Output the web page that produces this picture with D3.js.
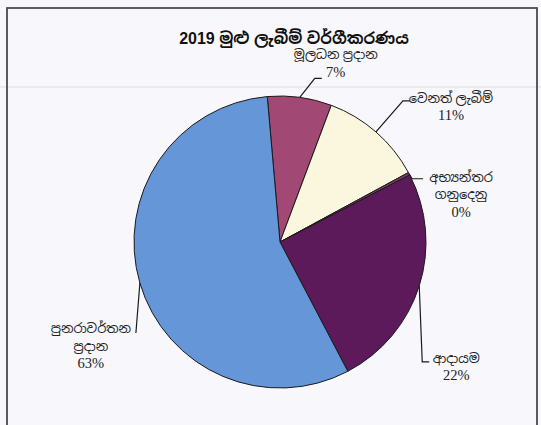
<!DOCTYPE html>
<html>
<head>
<meta charset="utf-8">
<script src="https://cdn.jsdelivr.net/npm/d3@7"></script>
<style>
  html, body { margin: 0; padding: 0; background: #f8f8fc; }
  svg { display: block; }
  .lbl { font-family: "Liberation Serif", "Noto Sans Sinhala", serif; font-size: 14.5px; fill: #222; }
  .lbl .si { font-size: 13px; }
  .title { font-family: "Liberation Sans", Arial, "Noto Sans Sinhala", sans-serif; font-size: 16px; font-weight: bold; fill: #111; }
</style>
</head>
<body>
<div id="chart"></div>
<script>
const w = 541;
const h = 425;

const categories = ["මූලධන ප්‍රදාන", "වෙනත් ලැබීම්", "අභ්‍යන්තර ගනුදෙනු", "ආදායම", "පුනරාවර්තන ප්‍රදාන"];
const labelLines = [["මූලධන ප්‍රදාන"], ["වෙනත් ලැබීම්"], ["අභ්‍යන්තර", "ගනුදෙනු"], ["ආදායම"], ["පුනරාවර්තන", "ප්‍රදාන"]];
const values = [7.1, 11.4, 0.3, 24.9, 56.3];
const pctLabels = ["7%", "11%", "0%", "22%", "63%"];
const colors = ["#a24874", "#fbf6de", "#7a3a6a", "#5c1a5a", "#6496d8"];

// label placement, offsets from the point where the leader leaves the pie
const labelLayout = [
  {elbow: [15, -19], end: [22, -19], text: [36, -38]},
  {elbow: [27, -31], end: [34, -31], text: [75, -29]},
  {elbow: [3, 5], end: [14, 5], text: [52, 8]},
  {elbow: [3, 76], end: [10, 76], text: [37, 77]},
  {elbow: [-4, 50], end: [-4, 50], text: [-49, 50]}
];

const cx = 280, cy = 242, r = 146;
const lineH = 17.5;

const svg = d3.select("#chart")
  .append("svg")
  .attr("width", w)
  .attr("height", h);

// faint scan line across the page
svg.append("line")
  .attr("x1", 0).attr("x2", w)
  .attr("y1", 87).attr("y2", 87)
  .attr("stroke", "#dcdce4")
  .attr("stroke-width", 1.2);

// frame
svg.append("rect")
  .attr("x", 7).attr("y", 8)
  .attr("width", 530).attr("height", 440)
  .attr("fill", "none")
  .attr("stroke", "#4a4a4a")
  .attr("stroke-width", 1.8);

svg.append("text")
  .attr("class", "title")
  .attr("x", 294).attr("y", 44)
  .attr("text-anchor", "middle")
  .text("2019 මුළු ලැබීම් වර්ගීකරණය");

const pie = d3.pie()
  .sort(null)
  .startAngle(-5 * Math.PI / 180)
  .endAngle(-5 * Math.PI / 180 + 2 * Math.PI);

const arcs = pie(values);

const arc = d3.arc().innerRadius(0).outerRadius(r);
const edge = d3.arc().innerRadius(r).outerRadius(r);

const g = svg.append("g").attr("transform", "translate(" + cx + "," + cy + ")");

g.selectAll(".slice")
  .data(arcs)
  .enter()
  .append("path")
  .attr("class", "slice")
  .attr("d", arc)
  .attr("fill", (d, i) => colors[i])
  .attr("stroke", "#1a1a1a")
  .attr("stroke-width", 1)
  .attr("stroke-linejoin", "round");

// leader lines
g.selectAll(".leader")
  .data(arcs)
  .enter()
  .append("polyline")
  .attr("class", "leader")
  .attr("points", function(d, i) {
    let p = edge.centroid(d);
    let L = labelLayout[i];
    return [p, [p[0] + L.elbow[0], p[1] + L.elbow[1]], [p[0] + L.end[0], p[1] + L.end[1]]]
      .map(q => q.join(",")).join(" ");
  })
  .attr("fill", "none")
  .attr("stroke", "#1a1a1a")
  .attr("stroke-width", 1.2);

// labels
const labels = g.selectAll(".lbl")
  .data(arcs)
  .enter()
  .append("text")
  .attr("class", "lbl")
  .attr("text-anchor", "middle")
  .attr("transform", function(d, i) {
    let p = edge.centroid(d);
    let L = labelLayout[i];
    return "translate(" + (p[0] + L.text[0]) + "," + (p[1] + L.text[1]) + ")";
  });

labels.each(function(d, i) {
  let t = d3.select(this);
  labelLines[i].forEach(function(s, k) {
    t.append("tspan")
      .attr("class", "si")
      .attr("x", 0)
      .attr("y", k * lineH)
      .text(s);
  });
  t.append("tspan")
    .attr("x", 0)
    .attr("y", labelLines[i].length * lineH)
    .text(pctLabels[i]);
});
</script>
</body>
</html>
